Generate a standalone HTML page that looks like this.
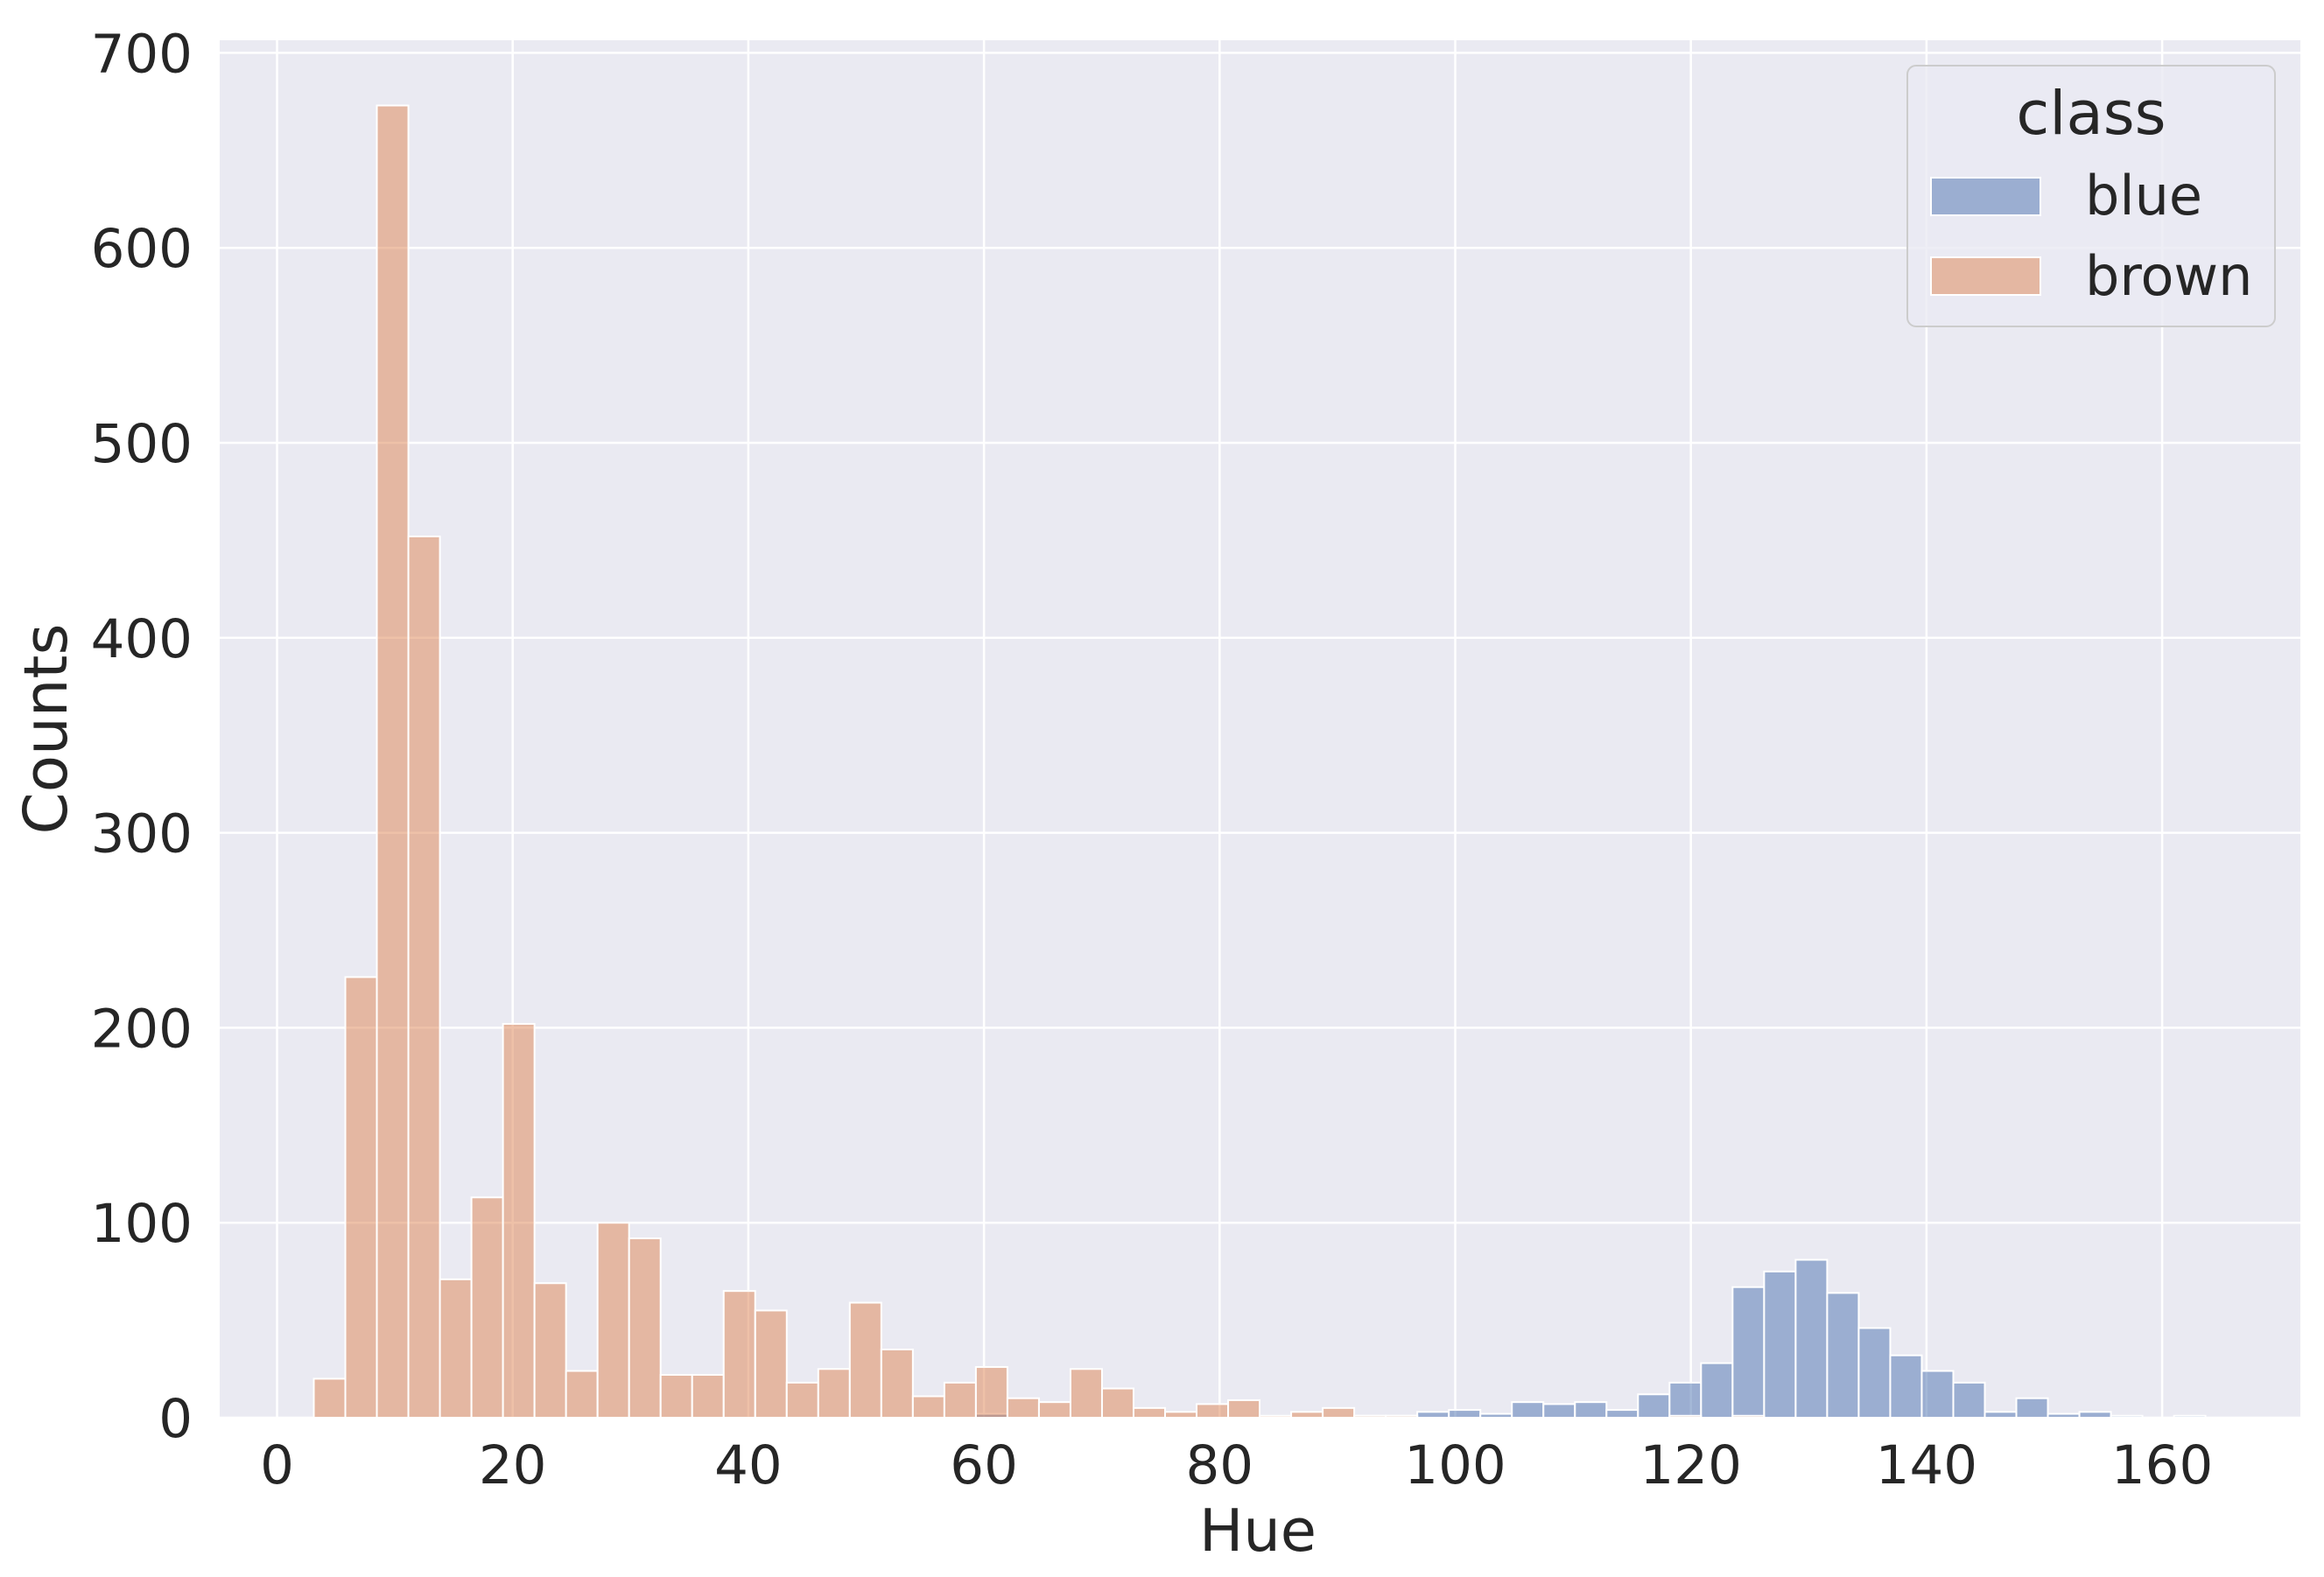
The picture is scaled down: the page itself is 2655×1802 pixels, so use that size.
<!DOCTYPE html>
<html><head><meta charset="utf-8"><style>
html,body{margin:0;padding:0;background:#fff}
svg{display:block;font-family:"DejaVu Sans","Liberation Sans",sans-serif}
</style></head><body>
<svg id="chart" width="2655" height="1802" viewBox="0 0 2655 1802">
<rect x="251" y="46" width="2377" height="1574" fill="#eaeaf2"/>
<g id="grid"></g>
<g id="bars"></g>
<g id="ticks" fill="#262626" font-size="61"></g>
<text x="1437" y="1772" text-anchor="middle" font-size="67" fill="#262626">Hue</text>
<text transform="translate(76,833) rotate(-90)" text-anchor="middle" font-size="69" fill="#262626">Counts</text>
<g>
<rect x="2179" y="75" width="420" height="298" rx="10" fill="#eaeaf2" fill-opacity="0.8" stroke="#cccccc" stroke-width="2"/>
<text x="2389" y="153" text-anchor="middle" font-size="69" fill="#262626">class</text>
<rect x="2206" y="203" width="125" height="43" fill="#9baed1" stroke="#fff" stroke-width="2"/>
<text x="2382" y="245" font-size="62" fill="#262626">blue</text>
<rect x="2206" y="294" width="125" height="43" fill="#e4b7a2" stroke="#fff" stroke-width="2"/>
<text x="2382" y="337" font-size="62" fill="#262626">brown</text>
</g>
</svg>
<script>
const binStart = 3.12;
const binWidth = 2.676;
const brownCounts = [20,226,673,452,71,113,202,69,24,100,92,22,22,65,55,18,25,59,35,11,18,26,10,8,25,15,5,3,7,9,1,3,5,1,1,0,0,0,0,0,0,0,0,1,0,1,0,0,0,0,0,0,0,0,0,0,0,0,0,0];
const blueCounts = [0,0,0,0,0,0,0,0,0,0,0,0,0,0,0,0,0,0,0,0,0,2,0,0,0,0,0,0,0,0,0,0,0,1,1,3,4,2,8,7,8,4,12,18,28,67,75,81,64,46,32,24,18,3,10,2,3,1,0,1];
const xTicks = [0,20,40,60,80,100,120,140,160];
const yTicks = [0,100,200,300,400,500,600,700];

const NS = 'http://www.w3.org/2000/svg';
const X0 = 316.5, XS = 13.46, Y0 = 1620, YS = 2.228;
const L = 251, R = 2628, T = 46;
function xs(v){ return X0 + v * XS; }
function ys(v){ return Y0 - v * YS; }
function mk(tag, attrs, parent){ const e = document.createElementNS(NS, tag); for (const k in attrs) e.setAttribute(k, attrs[k]); parent.appendChild(e); return e; }

const grid = document.getElementById('grid');
const ticks = document.getElementById('ticks');
const bars = document.getElementById('bars');

xTicks.forEach(t => {
  const g = mk('line', {x1: xs(t), x2: xs(t), y1: T, y2: Y0, stroke: '#fff', 'stroke-width': 2.5}, grid);
  
  
  const lb = mk('text', {x: xs(t), y: 1695, 'text-anchor': 'middle'}, ticks);
  lb.textContent = t;
  
  
});
yTicks.forEach(t => {
  const g = mk('line', {x1: L, x2: R, y1: ys(t), y2: ys(t), stroke: '#fff', 'stroke-width': 2.5}, grid);
  
  
  const lb = mk('text', {x: 220, y: ys(t) + 22, 'text-anchor': 'end'}, ticks);
  lb.textContent = t;
  
  
});

function drawSeries(counts, fill, name){
  counts.forEach((c, i) => {
    if (c <= 0) return;
    const a = binStart + i * binWidth;
    const x1 = xs(a), x2 = xs(a + binWidth);
    const r = mk('rect', {x: x1, y: ys(c), width: x2 - x1, height: Y0 - ys(c), fill: fill, 'fill-opacity': 0.5, stroke: '#fff', 'stroke-width': 2}, bars);
    
    
  });
}
drawSeries(blueCounts, '#4c72b0', 'bar-blue');
drawSeries(brownCounts, '#dd8452', 'bar-brown');
</script>
</body></html>
